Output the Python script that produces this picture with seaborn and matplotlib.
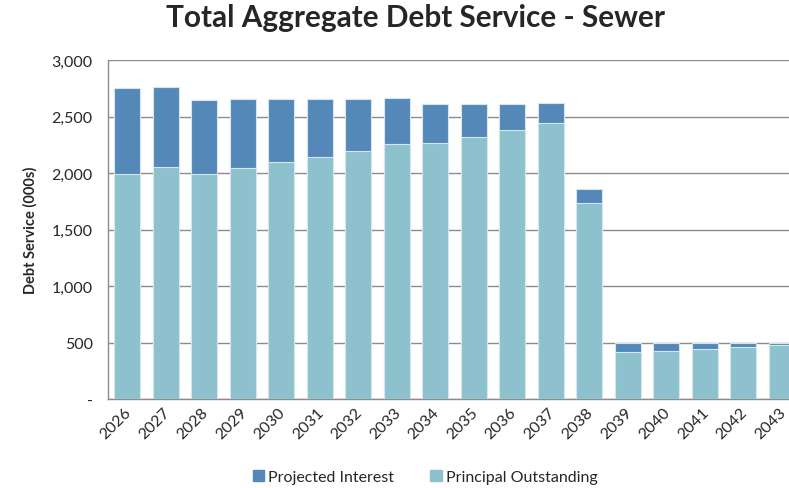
import numpy as np
import seaborn as sns
import matplotlib.pyplot as plt
from matplotlib.ticker import FuncFormatter, FixedLocator
from matplotlib.transforms import ScaledTranslation

# Values (000s)
years = ["2026", "2027", "2028", "2029", "2030", "2031", "2032", "2033", "2034",
         "2035", "2036", "2037", "2038", "2039", "2040", "2041", "2042", "2043"]
principal = [1995, 2052, 1990, 2047, 2097, 2144, 2197, 2257, 2266,
             2321, 2381, 2443, 1735, 413, 426, 446, 458, 482]
interest = [757, 706, 656, 611, 558, 508, 455, 404, 348,
            293, 233, 177, 123, 85, 74, 51, 39, 12]

total = [p + i for p, i in zip(principal, interest)]

interest_color = "#5388B8"
principal_color = "#8CC1CD"

sns.set_theme(style="white")
plt.rcParams["font.family"] = ["Lato", "DejaVu Sans"]

fig = plt.figure(figsize=(7.89, 4.89), dpi=100)
W, H = 789, 489
ax = fig.add_axes([108 / W, 1 - 400 / H, (801 - 108) / W, (400 - 61) / H])

# stacked bars: total in interest colour, principal drawn over it
sns.barplot(x=years, y=total, color=interest_color, width=0.68, saturation=1,
            edgecolor="#D6E6EE", linewidth=0.8, ax=ax, zorder=3)
sns.barplot(x=years, y=principal, color=principal_color, width=0.68, saturation=1,
            edgecolor="#D6E6EE", linewidth=0.8, ax=ax, zorder=3)

ax.set_xlim(-0.5, len(years) - 0.5)
ax.set_ylim(0, 3000)
ax.set_yticks(np.arange(0, 3001, 500))
ax.yaxis.set_major_formatter(FuncFormatter(lambda v, p: "-" if v == 0 else f"{int(v):,}"))
ax.grid(axis="y", color="#8C8C8C", linewidth=1, zorder=0)
ax.set_axisbelow(True)

# x tick marks between categories, labels centred
ax.xaxis.set_minor_locator(FixedLocator(np.arange(-0.5, len(years), 1)))
ax.tick_params(axis="x", which="minor", length=5, width=1, color="#8C8C8C", direction="out")
ax.tick_params(axis="x", which="major", length=0, labelsize=11.5, pad=4)
ax.tick_params(axis="y", length=5, width=1, color="#8C8C8C", direction="out", labelsize=11.5, pad=6)
shift = ScaledTranslation(-3 / 100, 0, fig.dpi_scale_trans)
for lab in ax.get_xticklabels():
    lab.set_rotation(45)
    lab.set_ha("right")
    lab.set_rotation_mode("anchor")
    lab.set_transform(lab.get_transform() + shift)

for side in ["top", "right"]:
    ax.spines[side].set_visible(False)
for side in ["left", "bottom"]:
    ax.spines[side].set_color("#8C8C8C")
    ax.spines[side].set_linewidth(1)

ax.set_xlabel("")
ax.set_ylabel("Debt Service (000s)", fontsize=10.5, fontweight="bold", labelpad=10)

fig.suptitle("Total Aggregate Debt Service - Sewer", fontsize=21.4, fontweight="bold",
             x=415 / W, y=1 - 4 / H, va="top")

handles = [plt.Rectangle((0, 0), 1, 1, color=interest_color),
           plt.Rectangle((0, 0), 1, 1, color=principal_color)]
fig.legend(handles, ["Projected Interest", "Principal Outstanding"], loc="center",
           bbox_to_anchor=(425 / W, 1 - 478 / H), ncol=2, frameon=False, fontsize=11.5,
           handlelength=0.7, handleheight=0.7, handletextpad=0.25, columnspacing=2.3)

fig.savefig("out.png", dpi=100)
